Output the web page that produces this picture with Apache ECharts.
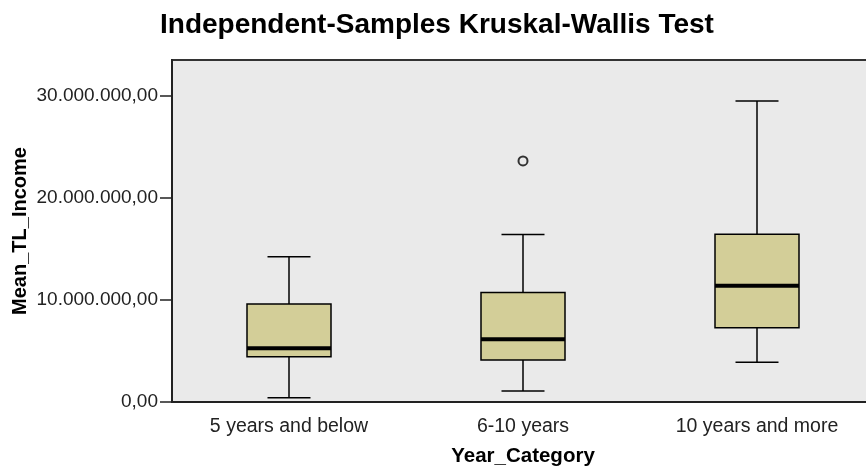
<!DOCTYPE html>
<html>
<head>
<meta charset="utf-8">
<title>Independent-Samples Kruskal-Wallis Test</title>
<script src="https://cdn.jsdelivr.net/npm/echarts@6/dist/echarts.min.js"></script>
<style>
	html, body { margin: 0; padding: 0; background: #fff; }
	#MyChart { width: 866px; height: 469px; }
</style>
</head>
<body>
<div id="MyChart"></div>
<script>
// data
var categories = ['5 years and below', '6-10 years', '10 years and more'];
var lowWhisker = [420000, 1070000, 3880000];
var q1 = [4430000, 4100000, 7260000];
var median = [5250000, 6130000, 11370000];
var q3 = [9580000, 10720000, 16420000];
var highWhisker = [14200000, 16390000, 29450000];
var outliers = [[1, 23590000]];
var yTicks = [0, 10000000, 20000000, 30000000];

var boxData = categories.map(function(c, i) {
	return [i, lowWhisker[i], q1[i], median[i], q3[i], highWhisker[i]];
});

function fmt(v) {
	var s = String(Math.round(v));
	return s.replace(/\B(?=(\d{3})+(?!\d))/g, '.') + ',00';
}

function renderBox(params, api) {
	var i = api.value(0);
	var low = api.coord([i, api.value(1)]);
	var b1 = api.coord([i, api.value(2)]);
	var med = api.coord([i, api.value(3)]);
	var b3 = api.coord([i, api.value(4)]);
	var high = api.coord([i, api.value(5)]);
	var x = low[0];
	var half = 42, cap = 21.5;
	var line = { stroke: '#000', lineWidth: 1.5 };
	return {
		type: 'group',
		children: [
			{ type: 'line', shape: { x1: x, y1: high[1], x2: x, y2: b3[1] }, style: line },
			{ type: 'line', shape: { x1: x, y1: b1[1], x2: x, y2: low[1] }, style: line },
			{ type: 'line', shape: { x1: x - cap, y1: high[1], x2: x + cap, y2: high[1] }, style: line },
			{ type: 'line', shape: { x1: x - cap, y1: low[1], x2: x + cap, y2: low[1] }, style: line },
			{
				type: 'rect',
				shape: { x: x - half, y: b3[1], width: half * 2, height: b1[1] - b3[1] },
				style: { fill: '#d3ce98', stroke: '#000', lineWidth: 1.5 }
			},
			{ type: 'line', shape: { x1: x - half, y1: med[1], x2: x + half, y2: med[1] }, style: { stroke: '#000', lineWidth: 4 } }
		]
	};
}

var option = {
	backgroundColor: '#fff',
	animation: false,
	textStyle: { fontFamily: 'Liberation Sans, Arial, sans-serif' },
	title: {
		text: 'Independent-Samples Kruskal-Wallis Test',
		left: 160,
		top: 11,
		padding: 0,
		textStyle: { fontSize: 28, fontWeight: 'bold', color: '#000', fontFamily: 'Liberation Sans' }
	},
	grid: {
		left: 172,
		width: 702,
		top: 60,
		bottom: 67,
		containLabel: false,
		outerBoundsMode: 'none',
		show: true,
		backgroundColor: '#eaeaea',
		borderColor: '#333',
		borderWidth: 2
	},
	xAxis: {
		type: 'category',
		data: categories,
		name: 'Year_Category',
		nameLocation: 'middle',
		nameGap: 44,
		nameMoveOverlap: false,
		nameTextStyle: { fontSize: 20.5, fontWeight: 'bold', color: '#000', fontFamily: 'Liberation Sans' },
		axisLine: { lineStyle: { color: '#222', width: 2 } },
		axisTick: { alignWithLabel: true, length: 12, lineStyle: { color: '#222', width: 1.5 } },
		axisLabel: { fontSize: 19.5, color: '#222', margin: 15, fontFamily: 'Liberation Sans' },
		splitLine: { show: false }
	},
	yAxis: {
		type: 'value',
		min: 0,
		max: 33460000,
		interval: 10000000,
		name: 'Mean_TL_Income',
		nameLocation: 'middle',
		nameGap: 142,
		nameMoveOverlap: false,
		nameTextStyle: { fontSize: 20, fontWeight: 'bold', color: '#000', fontFamily: 'Liberation Sans' },
		axisLine: { show: true, lineStyle: { color: '#222', width: 2 } },
		axisTick: { show: true, length: 12, customValues: yTicks, lineStyle: { color: '#222', width: 1.5 } },
		axisLabel: {
			fontSize: 19, color: '#222', margin: 14, fontFamily: 'Liberation Sans',
			customValues: yTicks,
			formatter: fmt
		},
		splitLine: { show: false }
	},
	series: [{
		type: 'custom',
		renderItem: renderBox,
		encode: { x: 0, y: [1, 2, 3, 4, 5] },
		data: boxData,
		z: 3
	}, {
		type: 'scatter',
		data: outliers,
		symbol: 'circle',
		symbolSize: 9,
		itemStyle: { color: '#eaeaea', borderColor: '#333', borderWidth: 2, opacity: 1 },
		z: 4
	}]
};

var myChart1 = echarts.init(document.getElementById('MyChart'));
myChart1.setOption(option);
</script>
</body>
</html>
